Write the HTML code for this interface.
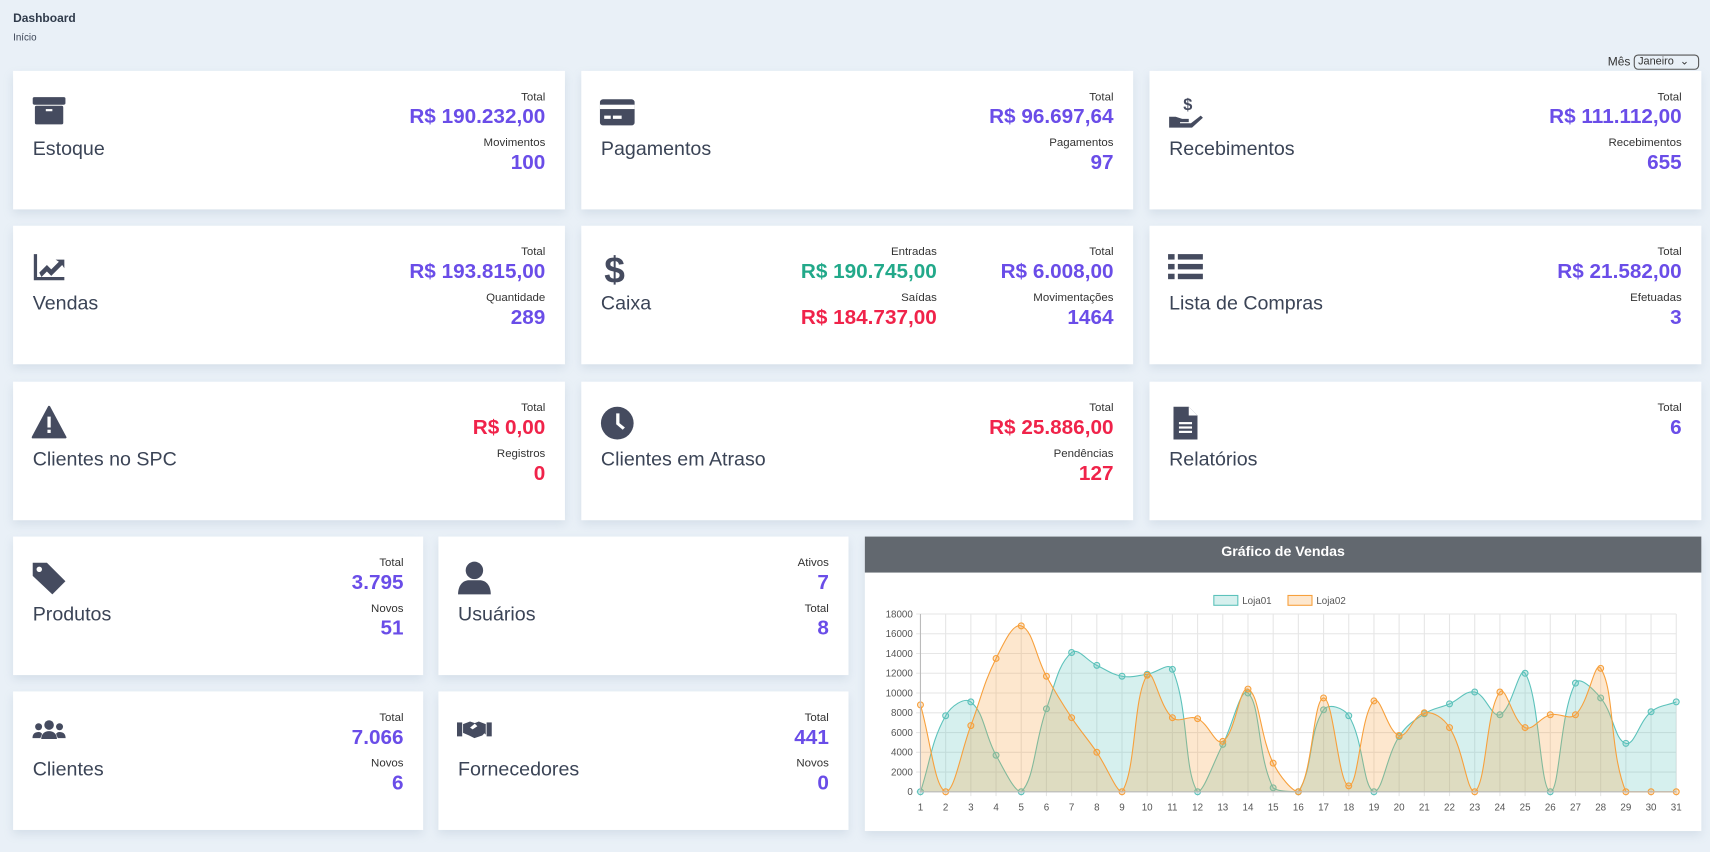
<!DOCTYPE html>
<html><head><meta charset="utf-8"><style>
html,body{margin:0;width:1710px;height:852px;overflow:hidden;background:#e9f0f7}
#root{position:absolute;left:0;top:0;width:1568px;height:781px;transform:scale(1.0906);transform-origin:0 0;font-family:"Liberation Sans",sans-serif;color:#3b4456}
.h{position:absolute;left:12px;top:11px;font-size:11px;font-weight:bold;color:#2f3a4a}
.s{position:absolute;left:12px;top:29px;font-size:9px;color:#3b4456}
.card{position:absolute;background:#fff;box-shadow:0 4px 8px rgba(150,170,190,.25)}
.ic{position:absolute;left:17px;top:22px;width:32px;height:32px}
.t{position:absolute;left:18px;top:61px;font-size:18px;color:#3b4456}
.col{position:absolute;top:17px;text-align:right}
.lb{font-size:10.5px;color:#333;height:14px;line-height:14px}
.v{font-size:19px;font-weight:bold;color:#6a4de8;line-height:23px;margin-bottom:5px}
.red{color:#f0234a}.grn{color:#22a98a}
.sel{position:absolute;right:10px;top:50px;font-size:11px;color:#333}
.sel span{display:inline-block;border:1px solid #555;border-radius:4px;padding:0 3px;width:52px;font-size:10px;line-height:12px;vertical-align:middle}
</style></head><body><div id="root">
<div class="h">Dashboard</div><div class="s">Início</div>
<div class="sel">Mês <span>Janeiro &nbsp;⌄</span></div>
<div id="cards"></div>
<div class="card" style="left:793px;top:492px;width:767px;height:270px">
<div style="height:33px;background:#62686f;color:#fff;font-weight:bold;font-size:13px;text-align:center;line-height:27px">Gráfico de Vendas</div>
</div>
<svg id="ch" style="position:absolute;left:793px;top:525px" width="767" height="237"></svg>
</div>
<script>
const P='#454b5f';
const icons={
box:`<svg viewBox="0 0 32 32"><rect x="1" y="2" width="30" height="7" rx="1.5" fill="${P}"/><rect x="3" y="10" width="26" height="17" rx="1.5" fill="${P}"/><rect x="13" y="13" width="6" height="2" fill="#fff"/></svg>`,
cc:`<svg viewBox="0 0 32 32"><rect x="0" y="4" width="32" height="24" rx="3" fill="${P}"/><rect x="0" y="9" width="32" height="4" fill="#fff"/><rect x="4" y="19" width="6" height="3" fill="#fff"/><rect x="12" y="19" width="8" height="3" fill="#fff"/></svg>`,
hand:`<svg viewBox="0 0 32 32"><text x="14" y="14" font-size="15" font-weight="bold" fill="${P}" font-family="Liberation Sans">$</text><path d="M1 20h6l6 2h6v3h-8v1h10l9-7 2 2-10 9H1z" fill="${P}"/></svg>`,
chart:`<svg viewBox="0 0 32 32"><path d="M2 4v24h28v-3H5V4z" fill="${P}"/><path d="M7 21l7-7 4 4 7-7-3-2h8v8l-2-3-10 10-4-4-5 5z" fill="${P}"/></svg>`,
dol:`<svg viewBox="0 0 32 32"><text x="4" y="30" font-size="34" font-weight="bold" fill="${P}" font-family="Liberation Sans">$</text></svg>`,
list:`<svg viewBox="0 0 32 32"><rect x="0" y="4" width="6" height="5" fill="${P}"/><rect x="9" y="4" width="23" height="5" fill="${P}"/><rect x="0" y="13" width="6" height="5" fill="${P}"/><rect x="9" y="13" width="23" height="5" fill="${P}"/><rect x="0" y="22" width="6" height="5" fill="${P}"/><rect x="9" y="22" width="23" height="5" fill="${P}"/></svg>`,
warn:`<svg viewBox="0 0 32 32"><path d="M16 1L31 29H1z" fill="${P}" stroke="${P}" stroke-linejoin="round" stroke-width="2"/><rect x="14.5" y="10" width="3" height="10" fill="#fff"/><rect x="14.5" y="22" width="3" height="3" fill="#fff"/></svg>`,
clock:`<svg viewBox="0 0 32 32"><circle cx="16" cy="16" r="15" fill="${P}"/><path d="M15 7h3v9l5 4-2 2-6-5z" fill="#fff"/></svg>`,
file:`<svg viewBox="0 0 32 32"><path d="M5 1h14l8 8v22H5z" fill="${P}"/><path d="M19 1v8h8" fill="#fff"/><rect x="10" y="15" width="12" height="2" fill="#fff"/><rect x="10" y="19" width="12" height="2" fill="#fff"/><rect x="10" y="23" width="12" height="2" fill="#fff"/></svg>`,
tag:`<svg viewBox="0 0 32 32"><path d="M1 2h13l17 17-12 12L1 14z" fill="${P}"/><circle cx="7" cy="8" r="2.5" fill="#fff"/></svg>`,
user:`<svg viewBox="0 0 32 32"><circle cx="16" cy="9" r="8" fill="${P}"/><path d="M1 31c0-9 5-13 10-13h10c5 0 10 4 10 13z" fill="${P}"/></svg>`,
users:`<svg viewBox="0 0 40 32"><circle cx="20" cy="11" r="5.5" fill="${P}"/><circle cx="8" cy="13" r="4" fill="${P}"/><circle cx="32" cy="13" r="4" fill="${P}"/><path d="M11 27c0-6 4-9 9-9s9 3 9 9z" fill="${P}"/><path d="M1 26c0-5 3-7 7-7 2 0 3 1 4 2l-2 5z M39 26c0-5-3-7-7-7-2 0-3 1-4 2l2 5z" fill="${P}"/></svg>`,
hs:`<svg viewBox="0 0 40 32"><rect x="0" y="8" width="6" height="16" fill="${P}"/><rect x="34" y="8" width="6" height="16" fill="${P}"/><path d="M7 10l8-3 6 2-6 5 3 2 6-4 8 8-3 3-9 3-6-3-7-3z" fill="${P}"/><path d="M20 9l5-2 8 3v12l-5-5z" fill="${P}"/></svg>`
};
const cards=[
[12,65,506,'box','Estoque',[[['Total','R$ 190.232,00'],['Movimentos','100']]]],
[533,65,506,'cc','Pagamentos',[[['Total','R$ 96.697,64'],['Pagamentos','97']]]],
[1054,65,506,'hand','Recebimentos',[[['Total','R$ 111.112,00'],['Recebimentos','655']]]],
[12,207,506,'chart','Vendas',[[['Total','R$ 193.815,00'],['Quantidade','289']]]],
[533,207,506,'dol','Caixa',[[['Total','R$ 6.008,00'],['Movimentações','1464']],[['Entradas','R$ 190.745,00','grn'],['Saídas','R$ 184.737,00','red']]]],
[1054,207,506,'list','Lista de Compras',[[['Total','R$ 21.582,00'],['Efetuadas','3']]]],
[12,350,506,'warn','Clientes no SPC',[[['Total','R$ 0,00','red'],['Registros','0','red']]]],
[533,350,506,'clock','Clientes em Atraso',[[['Total','R$ 25.886,00','red'],['Pendências','127','red']]]],
[1054,350,506,'file','Relatórios',[[['Total','6']]]],
[12,492,376,'tag','Produtos',[[['Total','3.795'],['Novos','51']]]],
[402,492,376,'user','Usuários',[[['Ativos','7'],['Total','8']]]],
[12,634,376,'users','Clientes',[[['Total','7.066'],['Novos','6']]]],
[402,634,376,'hs','Fornecedores',[[['Total','441'],['Novos','0']]]]];
let h='';
for(const [x,y,w,ic,t,cols] of cards){
 h+=`<div class="card" style="left:${x}px;top:${y}px;width:${w}px;height:127px"><div class="ic">${icons[ic]}</div><div class="t">${t}</div>`;
 cols.forEach((c,i)=>{const r=i==0?18:180;h+=`<div class="col" style="right:${r}px">`+c.map(e=>`<div class="lb">${e[0]}</div><div class="v ${e[2]||''}">${e[1]}</div>`).join('')+'</div>';});
 h+='</div>';
}
document.getElementById('cards').innerHTML=h;
const A=[0,7700,9100,3700,0,8400,14100,12800,11700,11900,12400,0,4800,10000,400,0,8300,7700,0,5600,7900,8900,10100,7800,12000,0,11000,9500,4900,8100,9100];
const B=[8800,0,6700,13500,16800,11700,7500,4000,0,11800,7500,7400,5100,10400,2900,0,9500,600,9200,5700,8000,6500,0,10100,6500,7800,7800,12500,0,0,0];
const ox=-793,oy=-525,X=i=>844+ox+i*693/30,Y=v=>726+oy-v*163/18000;
let s='';
for(let k=0;k<=9;k++){const y=Y(k*2000);s+=`<line x1="${X(0)-4}" x2="${X(30)}" y1="${y}" y2="${y}" stroke="#e6e6e6"/><text x="${X(0)-7}" y="${y+3}" font-size="9" text-anchor="end" fill="#555">${k*2000}</text>`;}
for(let i=0;i<31;i++){const x=X(i);s+=`<line x1="${x}" x2="${x}" y1="${Y(18000)}" y2="${Y(0)+4}" stroke="#e6e6e6"/><text x="${x}" y="${Y(0)+17}" font-size="9" text-anchor="middle" fill="#555">${i+1}</text>`;}
function path(d){const p=d.map((v,i)=>[X(i),Y(v)]);let r=`M${p[0][0]},${p[0][1]}`;const t=0.4;
 const cp=p.map((c,i)=>{const a=p[Math.max(i-1,0)],b=p[Math.min(i+1,p.length-1)];const d01=Math.hypot(c[0]-a[0],c[1]-a[1]),d12=Math.hypot(b[0]-c[0],b[1]-c[1]);const s01=d01/(d01+d12||1),s12=d12/(d01+d12||1);const fa=t*s01,fb=t*s12;
 return [[c[0]-fa*(b[0]-a[0]),Math.min(Y(0),c[1]-fa*(b[1]-a[1]))],[c[0]+fb*(b[0]-a[0]),Math.min(Y(0),c[1]+fb*(b[1]-a[1]))]];});
 for(let i=1;i<p.length;i++)r+=`C${cp[i-1][1][0]},${cp[i-1][1][1]} ${cp[i][0][0]},${cp[i][0][1]} ${p[i][0]},${p[i][1]}`;return r;}
function ser(d,c,f){const pa=path(d);let o=`<path d="${pa}L${X(30)},${Y(0)}L${X(0)},${Y(0)}Z" fill="${f}"/><path d="${pa}" fill="none" stroke="${c}" stroke-width="1"/>`;d.forEach((v,i)=>o+=`<circle cx="${X(i)}" cy="${Y(v)}" r="2.7" fill="${f}" stroke="${c}"/>`);return o;}
s+=ser(A,'#5cc2bb','rgba(92,194,187,0.25)')+ser(B,'#f7a03c','rgba(247,160,60,0.25)');
s+=`<line x1="${X(0)}" x2="${X(0)}" y1="${Y(18000)}" y2="${Y(0)}" stroke="#bbb"/><line x1="${X(0)}" x2="${X(30)}" y1="${Y(0)}" y2="${Y(0)}" stroke="#bbb"/>`;
s+=`<rect x="320" y="21" width="22" height="9" fill="rgba(92,194,187,0.25)" stroke="#5cc2bb"/><text x="346" y="29" font-size="9" fill="#555">Loja01</text><rect x="388" y="21" width="22" height="9" fill="rgba(247,160,60,0.25)" stroke="#f7a03c"/><text x="414" y="29" font-size="9" fill="#555">Loja02</text>`;
document.getElementById('ch').innerHTML=s;
</script>
</body></html>
